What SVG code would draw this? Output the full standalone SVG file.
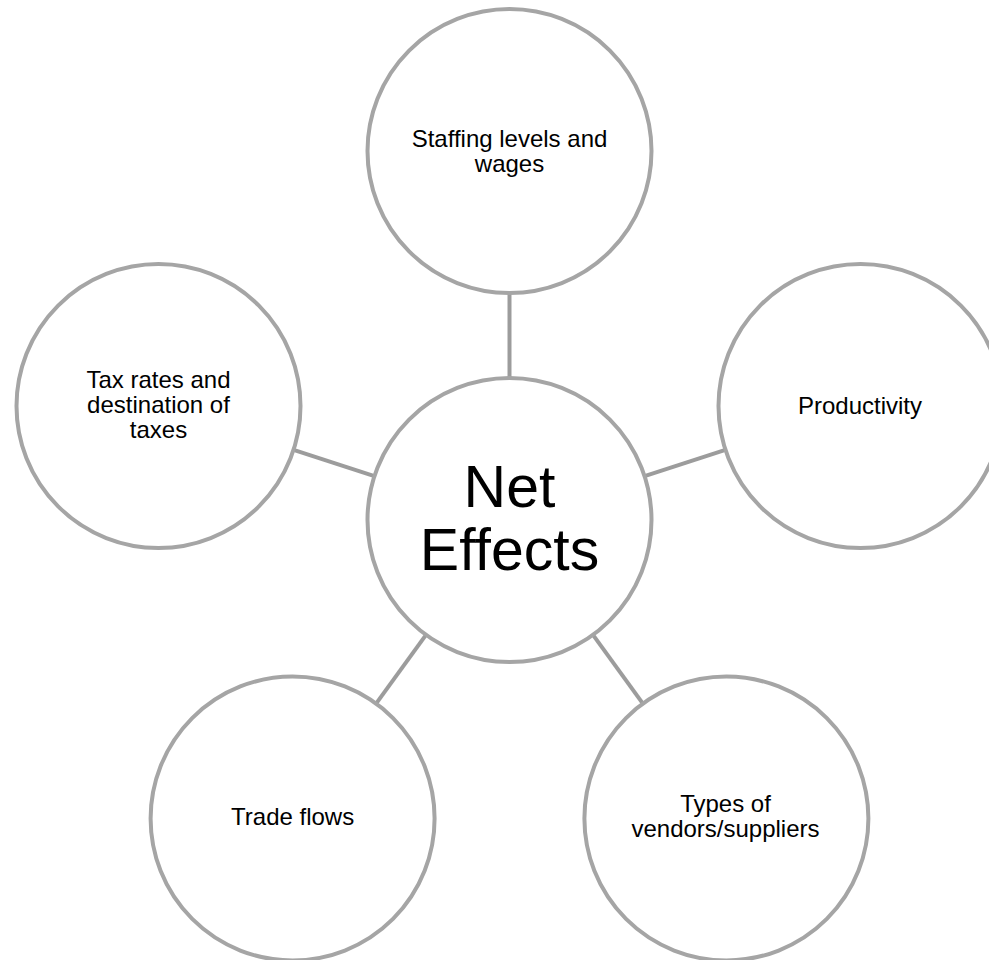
<svg xmlns="http://www.w3.org/2000/svg" width="989" height="960" viewBox="0 0 989 960">
  <style>
    .bubble { fill: #ffffff; stroke: #a5a5a5; stroke-width: 4; }
    .link { stroke: #9c9c9c; stroke-width: 4; fill: none; }
    .label { font-family: "Liberation Sans", Arial, sans-serif; font-size: 24px; fill: #000000; text-anchor: middle; }
    .hub-label { font-family: "Liberation Sans", Arial, sans-serif; font-size: 59px; fill: #000000; text-anchor: middle; }
  </style>
  <rect width="989" height="960" fill="#ffffff"/>

  <!-- spokes between the hub and each outer bubble -->
  <g id="connectors">
    <line class="link" x1="509.5" y1="378" x2="509.5" y2="293"/>
    <line class="link" x1="644.6" y1="476.1" x2="725.4" y2="449.9"/>
    <line class="link" x1="374.4" y1="476.1" x2="293.6" y2="449.9"/>
    <line class="link" x1="593" y1="634.9" x2="642.9" y2="703.6"/>
    <line class="link" x1="426" y1="634.9" x2="376.1" y2="703.6"/>
  </g>

  <g id="hub">
    <circle class="bubble" cx="509.5" cy="520" r="142"/>
    <text class="hub-label" x="509.5" y="507">Net</text>
    <text class="hub-label" x="509.5" y="570">Effects</text>
  </g>

  <g id="staffing">
    <circle class="bubble" cx="509.5" cy="151" r="142"/>
    <text class="label" x="509.5" y="147">Staffing levels and</text>
    <text class="label" x="509.5" y="172">wages</text>
  </g>

  <g id="productivity">
    <circle class="bubble" cx="860.5" cy="406" r="142"/>
    <text class="label" x="860" y="414">Productivity</text>
  </g>

  <g id="tax">
    <circle class="bubble" cx="158.5" cy="406" r="142"/>
    <text class="label" x="158.5" y="388">Tax rates and</text>
    <text class="label" x="158.5" y="413">destination of</text>
    <text class="label" x="158.5" y="438">taxes</text>
  </g>

  <g id="trade">
    <circle class="bubble" cx="292.6" cy="818.5" r="142"/>
    <text class="label" x="292.6" y="825">Trade flows</text>
  </g>

  <g id="vendors">
    <circle class="bubble" cx="726.4" cy="818.5" r="142"/>
    <text class="label" x="725.5" y="812">Types of</text>
    <text class="label" x="725.5" y="837">vendors/suppliers</text>
  </g>
</svg>
